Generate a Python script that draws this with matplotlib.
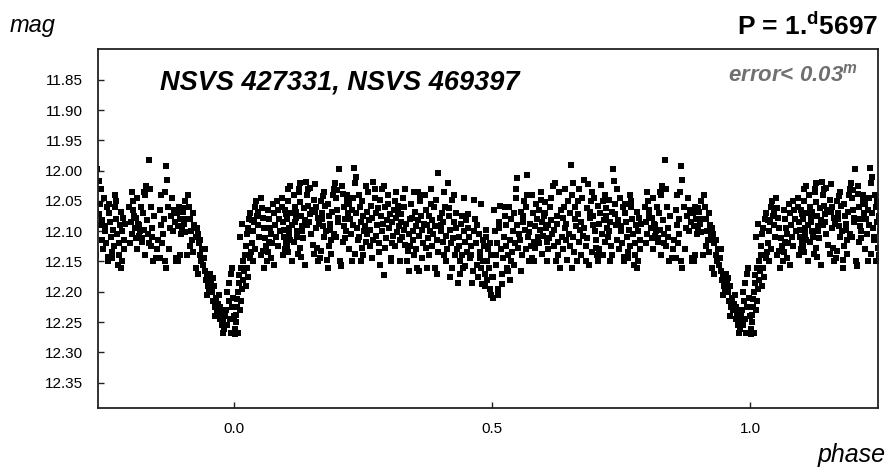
import numpy as np
import matplotlib
matplotlib.use("Agg")
import matplotlib.pyplot as plt

plt.rcParams['font.family'] = ['Liberation Sans', 'DejaVu Sans']

# light curve of one cycle (phase 0..1), magnitudes
phase_egress = [
    0.001, 0.002, 0.004, 0.003, 0.006, 0.005, 0.008, 0.009, 0.007, 0.010,
    0.012, 0.014, 0.016, 0.018, 0.013, 0.011, 0.015, 0.017, 0.019, 0.021,
    0.022, 0.024, 0.026, 0.028, 0.030, 0.023, 0.027, 0.025, 0.031, 0.033,
    0.035, 0.037, 0.039, 0.041, 0.043, 0.036, 0.045, 0.047, 0.040, 0.049,
    0.051, 0.053, 0.055, 0.057, 0.052, 0.059, 0.061, 0.063, 0.058, 0.065,
    0.067, 0.069, 0.071, 0.073, 0.066, 0.075, 0.077, 0.079, 0.072, 0.081,
    0.083, 0.085, 0.087, 0.089, 0.084, 0.078, 0.068, 0.056, 0.046, 0.034]
mag_egress = [
    12.270, 12.262, 12.250, 12.238, 12.225, 12.212, 12.200, 12.185, 12.268, 12.172,
    12.230, 12.215, 12.195, 12.180, 12.160, 12.110, 12.088, 12.150, 12.165, 12.140,
    12.125, 12.105, 12.095, 12.080, 12.070, 12.190, 12.175, 12.160, 12.145, 12.135,
    12.120, 12.100, 12.085, 12.060, 12.050, 12.150, 12.075, 12.090, 12.130, 12.110,
    12.045, 12.062, 12.078, 12.095, 12.140, 12.112, 12.125, 12.150, 12.160, 12.065,
    12.080, 12.095, 12.105, 12.120, 12.135, 12.055, 12.070, 12.090, 12.145, 12.110,
    12.050, 12.065, 12.080, 12.100, 12.125, 12.155, 12.118, 12.132, 12.068, 12.082]

phase_max1 = [
    0.092, 0.094, 0.096, 0.098, 0.100, 0.093, 0.097, 0.101, 0.095, 0.099,
    0.103, 0.105, 0.107, 0.109, 0.104, 0.111, 0.108, 0.113, 0.106, 0.102,
    0.115, 0.117, 0.119, 0.121, 0.116, 0.123, 0.118, 0.125, 0.120, 0.122,
    0.127, 0.129, 0.131, 0.133, 0.128, 0.135, 0.130, 0.137, 0.132, 0.126,
    0.140, 0.142, 0.144, 0.146, 0.141, 0.148, 0.143, 0.150, 0.145, 0.152,
    0.154, 0.156, 0.158, 0.160, 0.155, 0.162, 0.157, 0.164, 0.159, 0.166,
    0.168, 0.170, 0.172, 0.174, 0.169, 0.176, 0.171, 0.178, 0.173, 0.180,
    0.182, 0.184, 0.186, 0.188, 0.183, 0.190, 0.185, 0.192, 0.187, 0.194,
    0.196, 0.198, 0.200, 0.202, 0.197, 0.204, 0.199, 0.206, 0.201, 0.208,
    0.210, 0.212, 0.214, 0.216, 0.211, 0.218, 0.213, 0.220, 0.215, 0.209]
mag_max1 = [
    12.060, 12.085, 12.110, 12.130, 12.072, 12.045, 12.098, 12.120, 12.140, 12.065,
    12.080, 12.050, 12.095, 12.115, 12.135, 12.070, 12.025, 12.090, 12.105, 12.125,
    12.040, 12.060, 12.078, 12.100, 12.118, 12.138, 12.085, 12.030, 12.068, 12.110,
    12.052, 12.075, 12.092, 12.112, 12.128, 12.062, 12.143, 12.082, 12.100, 12.035,
    12.018, 12.040, 12.058, 12.072, 12.090, 12.105, 12.030, 12.065, 12.085, 12.122,
    12.048, 12.068, 12.095, 12.128, 12.138, 12.078, 12.022, 12.088, 12.060, 12.145,
    12.050, 12.070, 12.092, 12.110, 12.132, 12.058, 12.080, 12.100, 12.042, 12.148,
    12.055, 12.075, 12.098, 12.115, 12.125, 12.068, 12.088, 12.040, 12.138, 12.105,
    12.020, 12.045, 12.065, 12.085, 12.110, 11.998, 12.032, 12.150, 12.078, 12.158,
    12.038, 12.060, 12.080, 12.100, 12.118, 12.050, 12.092, 12.070, 12.112, 12.025]

phase_max1b = [
    0.222, 0.224, 0.226, 0.228, 0.223, 0.230, 0.232, 0.234, 0.231, 0.236,
    0.238, 0.240, 0.235, 0.242, 0.244, 0.246, 0.241, 0.248, 0.250, 0.252,
    0.247, 0.254, 0.256, 0.249, 0.258, 0.260, 0.262, 0.257, 0.264, 0.266,
    0.268, 0.263, 0.270, 0.272, 0.274, 0.269, 0.276, 0.278, 0.280, 0.275,
    0.282, 0.284, 0.286, 0.281, 0.288, 0.290, 0.292, 0.287, 0.294, 0.296,
    0.298, 0.293, 0.300, 0.302, 0.304, 0.299, 0.306, 0.308, 0.310, 0.305,
    0.312, 0.314, 0.316, 0.311, 0.318, 0.320, 0.322, 0.317, 0.324, 0.326,
    0.328, 0.323, 0.330, 0.332, 0.334, 0.329, 0.336, 0.338, 0.340, 0.335,
    0.342, 0.344, 0.346, 0.341, 0.348, 0.350, 0.352, 0.347, 0.354, 0.356,
    0.358, 0.353, 0.360, 0.362, 0.364, 0.359, 0.366, 0.368, 0.365, 0.357]
mag_max1b = [
    12.055, 12.080, 12.105, 12.065, 12.130, 12.090, 11.995, 12.020, 12.045, 12.070,
    12.095, 12.115, 12.138, 12.040, 12.060, 12.085, 12.110, 12.128, 12.075, 12.100,
    12.050, 12.092, 12.118, 12.140, 12.068, 12.035, 12.082, 12.105, 12.125, 12.058,
    12.078, 12.098, 12.018, 12.045, 12.070, 12.115, 12.090, 12.062, 12.135, 12.108,
    12.048, 12.075, 12.100, 12.120, 12.088, 12.172, 12.060, 12.030, 12.112, 12.082,
    12.055, 12.128, 12.095, 12.072, 12.145, 12.040, 12.085, 12.108, 12.065, 12.120,
    12.050, 12.078, 12.102, 12.125, 12.068, 12.092, 12.115, 12.058, 12.085, 12.110,
    12.045, 12.072, 12.098, 12.122, 12.088, 12.060, 12.132, 12.105, 12.080, 12.150,
    12.055, 12.078, 12.100, 12.125, 12.140, 12.068, 12.092, 12.115, 12.160, 12.082,
    12.108, 12.130, 12.050, 12.075, 12.098, 12.165, 12.120, 12.088, 12.145, 12.035]

phase_sec1 = [
    0.370, 0.372, 0.374, 0.376, 0.371, 0.378, 0.380, 0.382, 0.377, 0.384,
    0.386, 0.388, 0.383, 0.390, 0.392, 0.394, 0.389, 0.396, 0.398, 0.395,
    0.400, 0.402, 0.404, 0.401, 0.406, 0.408, 0.410, 0.405, 0.412, 0.414,
    0.416, 0.411, 0.418, 0.420, 0.422, 0.417, 0.424, 0.426, 0.428, 0.423,
    0.430, 0.432, 0.434, 0.429, 0.436, 0.438, 0.440, 0.435, 0.442, 0.444,
    0.446, 0.441, 0.448, 0.450, 0.452, 0.447, 0.454, 0.456, 0.458, 0.453,
    0.460, 0.462, 0.464, 0.459, 0.466, 0.468, 0.470, 0.465, 0.472, 0.474,
    0.476, 0.471, 0.478, 0.480, 0.482, 0.477, 0.484, 0.486, 0.488, 0.483,
    0.490, 0.492, 0.494, 0.489, 0.496, 0.498, 0.500, 0.495, 0.491, 0.497]
mag_sec1 = [
    12.040, 12.065, 12.090, 12.112, 12.128, 12.075, 12.100, 12.055, 12.140, 12.082,
    12.105, 12.060, 12.125, 12.092, 12.048, 12.115, 12.160, 12.003, 12.078, 12.135,
    12.100, 12.070, 12.118, 12.090, 12.140, 12.060, 12.108, 12.085, 12.130, 12.020,
    12.075, 12.150, 12.098, 12.120, 12.160, 12.062, 12.112, 12.085, 12.140, 12.048,
    12.095, 12.130, 12.185, 12.070, 12.110, 12.150, 12.088, 12.125, 12.075, 12.160,
    12.100, 12.140, 12.118, 12.082, 12.135, 12.158, 12.072, 12.110, 12.145, 12.095,
    12.125, 12.165, 12.100, 12.140, 12.080, 12.120, 12.155, 12.048, 12.175, 12.105,
    12.135, 12.090, 12.160, 12.188, 12.115, 12.145, 12.125, 12.170, 12.098, 12.150,
    12.180, 12.130, 12.160, 12.110, 12.195, 12.140, 12.175, 12.120, 12.150, 12.205]

phase_sec2 = [
    0.501, 0.503, 0.505, 0.507, 0.502, 0.509, 0.511, 0.513, 0.508, 0.515,
    0.517, 0.519, 0.514, 0.521, 0.523, 0.525, 0.520, 0.527, 0.529, 0.526,
    0.531, 0.533, 0.535, 0.530, 0.537, 0.539, 0.541, 0.536, 0.543, 0.545,
    0.547, 0.542, 0.549, 0.551, 0.553, 0.548, 0.555, 0.557, 0.559, 0.554,
    0.561, 0.563, 0.565, 0.560, 0.567, 0.569, 0.571, 0.566, 0.573, 0.575,
    0.577, 0.572, 0.579, 0.581, 0.583, 0.578, 0.585, 0.587, 0.589, 0.584,
    0.591, 0.593, 0.595, 0.590, 0.597, 0.599, 0.601, 0.596, 0.603, 0.605,
    0.607, 0.602, 0.609, 0.611, 0.613, 0.608, 0.615, 0.617, 0.619, 0.614,
    0.621, 0.623, 0.625, 0.620, 0.627, 0.629, 0.631, 0.626, 0.633, 0.635]
mag_sec2 = [
    12.210, 12.065, 12.100, 12.140, 12.175, 12.120, 12.205, 12.085, 12.155, 12.058,
    12.130, 12.170, 12.095, 12.145, 12.110, 12.075, 12.188, 12.125, 12.160, 12.090,
    12.140, 12.060, 12.115, 12.165, 12.080, 12.135, 12.100, 12.150, 12.070, 12.120,
    12.045, 12.155, 12.090, 12.128, 12.105, 12.012, 12.068, 12.140, 12.085, 12.115,
    12.050, 12.098, 12.130, 12.075, 12.007, 12.110, 12.150, 12.060, 12.088, 12.125,
    12.040, 12.102, 12.070, 12.118, 12.092, 12.145, 12.055, 12.080, 12.110, 12.128,
    12.065, 12.098, 12.048, 12.120, 12.085, 12.108, 12.075, 12.138, 12.052, 12.095,
    12.118, 12.070, 12.090, 12.112, 12.060, 12.130, 12.082, 12.105, 12.125, 12.045,
    12.020, 12.150, 12.075, 12.098, 12.118, 12.035, 12.160, 12.088, 12.065, 12.110]

phase_max2 = [
    0.637, 0.639, 0.641, 0.643, 0.638, 0.645, 0.647, 0.649, 0.644, 0.651,
    0.653, 0.655, 0.650, 0.657, 0.659, 0.661, 0.656, 0.663, 0.665, 0.660,
    0.667, 0.669, 0.671, 0.666, 0.673, 0.675, 0.677, 0.672, 0.679, 0.681,
    0.683, 0.678, 0.685, 0.687, 0.689, 0.684, 0.691, 0.693, 0.695, 0.690,
    0.697, 0.699, 0.701, 0.696, 0.703, 0.705, 0.707, 0.702, 0.709, 0.711,
    0.713, 0.708, 0.715, 0.717, 0.719, 0.714, 0.721, 0.723, 0.725, 0.720,
    0.727, 0.729, 0.731, 0.726, 0.733, 0.735, 0.737, 0.732, 0.739, 0.741,
    0.743, 0.738, 0.745, 0.747, 0.749, 0.744, 0.751, 0.753, 0.755, 0.750]
mag_max2 = [
    12.130, 12.060, 12.095, 12.115, 12.078, 12.148, 12.050, 12.105, 12.088, 12.125,
    11.990, 12.040, 12.070, 12.110, 12.135, 12.060, 12.020, 12.092, 12.150, 12.080,
    12.050, 12.118, 12.098, 12.072, 12.140, 12.045, 12.108, 12.085, 12.015, 12.125,
    12.062, 12.095, 12.022, 12.155, 12.078, 12.112, 12.050, 12.135, 12.090, 12.068,
    12.045, 12.100, 12.128, 12.075, 12.140, 12.058, 12.088, 12.115, 12.070, 12.023,
    12.105, 12.130, 12.050, 12.082, 12.118, 12.140, 12.062, 12.095, 12.110, 12.075,
    12.048, 12.085, 12.125, 12.100, 12.068, 11.998, 12.017, 12.140, 12.055, 12.090,
    12.115, 12.072, 12.130, 12.045, 12.100, 12.082, 12.120, 12.060, 12.142, 12.092]

phase_max2b = [
    0.757, 0.759, 0.761, 0.763, 0.758, 0.765, 0.767, 0.769, 0.764, 0.771,
    0.773, 0.775, 0.770, 0.777, 0.779, 0.781, 0.776, 0.783, 0.785, 0.780,
    0.787, 0.789, 0.786, 0.797, 0.799, 0.801, 0.803, 0.798, 0.805, 0.807,
    0.809, 0.804, 0.811, 0.813, 0.815, 0.810, 0.817, 0.819, 0.821, 0.816,
    0.823, 0.825, 0.827, 0.822, 0.829, 0.831, 0.833, 0.828, 0.835, 0.837,
    0.839, 0.834, 0.841, 0.843, 0.845, 0.840, 0.857, 0.859, 0.861, 0.856,
    0.863, 0.865, 0.867, 0.862, 0.869, 0.871, 0.873, 0.868, 0.875, 0.877,
    0.883, 0.885, 0.887, 0.882, 0.889, 0.891, 0.893, 0.888, 0.895, 0.897,
    0.899, 0.894, 0.901, 0.903, 0.905, 0.900, 0.907, 0.850, 0.852, 0.848]
mag_max2b = [
    12.055, 12.085, 12.110, 12.135, 12.070, 12.098, 12.125, 12.060, 12.145, 12.080,
    12.105, 12.155, 12.050, 12.120, 12.090, 12.068, 12.140, 12.100, 12.078, 12.160,
    12.115, 12.088, 12.130, 12.060, 12.085, 12.105, 12.050, 12.120, 12.075, 12.095,
    12.112, 12.065, 12.045, 12.088, 12.108, 12.078, 12.100, 12.060, 12.118, 12.090,
    12.070, 12.098, 12.040, 12.112, 12.025, 12.082, 12.105, 12.140, 11.982, 12.030,
    12.060, 12.120, 12.095, 12.150, 12.075, 12.110, 12.065, 12.090, 12.120, 12.145,
    12.080, 12.035, 11.993, 12.105, 12.015, 12.060, 12.130, 12.160, 12.095, 12.075,
    12.065, 12.085, 12.145, 12.100, 12.070, 12.092, 12.060, 12.150, 12.080, 12.105,
    12.098, 12.140, 12.068, 12.088, 12.102, 12.062, 12.080, 12.130, 12.115, 12.145]

phase_ingress = [
    0.910, 0.912, 0.915, 0.917, 0.919, 0.921, 0.923, 0.925, 0.914, 0.920,
    0.927, 0.929, 0.931, 0.933, 0.935, 0.937, 0.926, 0.930, 0.934, 0.939,
    0.941, 0.943, 0.945, 0.947, 0.949, 0.944, 0.951, 0.953, 0.955, 0.948,
    0.957, 0.959, 0.961, 0.963, 0.965, 0.958, 0.967, 0.969, 0.962, 0.971,
    0.973, 0.975, 0.977, 0.972, 0.979, 0.981, 0.983, 0.978, 0.985, 0.987,
    0.989, 0.986, 0.991, 0.993, 0.995, 0.990, 0.997, 0.999, 0.994, 0.996]
mag_ingress = [
    12.040, 12.060, 12.080, 12.100, 12.115, 12.070, 12.090, 12.110, 12.125, 12.135,
    12.095, 12.105, 12.120, 12.140, 12.150, 12.130, 12.160, 12.170, 12.115, 12.155,
    12.145, 12.165, 12.180, 12.175, 12.190, 12.130, 12.195, 12.170, 12.185, 12.205,
    12.200, 12.215, 12.190, 12.225, 12.210, 12.178, 12.230, 12.220, 12.240, 12.205,
    12.245, 12.235, 12.255, 12.225, 12.250, 12.262, 12.240, 12.268, 12.230, 12.255,
    12.215, 12.200, 12.245, 12.268, 12.225, 12.185, 12.210, 12.240, 12.170, 12.160]

# points along the upper and lower edges of the scatter band
phase_edge = [
    0.105, 0.112, 0.128, 0.138, 0.147, 0.163, 0.175, 0.181, 0.193, 0.207,
    0.219, 0.229, 0.237, 0.245, 0.255, 0.267, 0.273, 0.283, 0.291, 0.303,
    0.313, 0.321, 0.331, 0.339, 0.349, 0.361, 0.373, 0.381, 0.393, 0.407,
    0.419, 0.427, 0.437, 0.445, 0.461, 0.479, 0.487, 0.512, 0.524, 0.534,
    0.546, 0.556, 0.568, 0.582, 0.594, 0.606, 0.618, 0.628, 0.642, 0.654,
    0.668, 0.682, 0.694, 0.706, 0.718, 0.728, 0.742, 0.756, 0.768, 0.782,
    0.801, 0.812, 0.826, 0.838, 0.858, 0.866, 0.879, 0.892, 0.904, 0.908]
mag_edge = [
    12.030, 12.150, 12.020, 12.155, 12.028, 12.150, 12.035, 12.160, 12.030, 12.155,
    12.040, 12.150, 12.010, 12.150, 12.025, 12.145, 12.030, 12.155, 12.025, 12.150,
    12.035, 12.150, 12.030, 12.165, 12.035, 12.040, 12.160, 12.030, 12.170, 12.035,
    12.175, 12.040, 12.170, 12.045, 12.185, 12.055, 12.190, 12.195, 12.060, 12.180,
    12.030, 12.165, 12.040, 12.150, 12.035, 12.150, 12.025, 12.140, 12.030, 12.160,
    12.030, 12.150, 12.035, 12.150, 12.040, 12.150, 12.030, 12.150, 12.040, 12.150,
    12.035, 12.130, 12.035, 12.125, 12.040, 12.150, 12.045, 12.150, 12.050, 12.140]

y_ticks = [11.85, 11.90, 11.95, 12.00, 12.05, 12.10, 12.15, 12.20, 12.25, 12.30, 12.35]
x_ticks = [0.0, 0.5, 1.0]

phase = np.concatenate([phase_egress, phase_max1, phase_max1b, phase_sec1,
                        phase_sec2, phase_max2, phase_max2b, phase_ingress, phase_edge])
mag = np.concatenate([mag_egress, mag_max1, mag_max1b, mag_sec1,
                      mag_sec2, mag_max2, mag_max2b, mag_ingress, mag_edge])

# show 1.5 cycles: repeat the cycle on both sides
ph_all = np.concatenate([phase - 1, phase, phase + 1])
mag_all = np.concatenate([mag, mag, mag])

W, H = 891, 472
fig = plt.figure(figsize=(W / 100, H / 100), dpi=100)
ax = fig.add_axes([98 / W, 1 - 408 / H, (878 - 98) / W, (408 - 49) / H])

ax.plot(ph_all, mag_all, ls='none', marker='s', ms=4.9, mew=0, color='black')

ax.set_xlim(-0.264, 1.248)
ax.set_ylim(12.392, 11.799)
ax.set_xticks(x_ticks)
ax.set_xticklabels([f"{t:.1f}" for t in x_ticks])
ax.set_yticks(y_ticks)
ax.set_yticklabels([f"{t:.2f}" for t in y_ticks])
ax.tick_params(direction='in', length=4, width=1, color='#222222', labelsize=11)
ax.tick_params(axis='x', pad=10)
ax.tick_params(axis='y', pad=11)
for sp in ax.spines.values():
    sp.set_linewidth(1.3)
    sp.set_color('#222222')

fig.text(10 / W, 1 - 32 / H, 'mag', fontsize=17, style='italic', ha='left', va='baseline')
fig.text(878 / W, 1 - 35 / H, r'P = 1.$^\mathregular{d}$5697', fontsize=19,
         weight='bold', ha='right', va='baseline')
ax.text(160 / W, 1 - 89 / H, 'NSVS 427331, NSVS 469397', transform=fig.transFigure,
        fontsize=19.5, weight='bold', style='italic', ha='left', va='baseline')
ax.text(858 / W, 1 - 81 / H, r'error< 0.03$^\mathregular{m}$', transform=fig.transFigure,
        fontsize=16, weight='bold', style='italic', color='#707070',
        ha='right', va='baseline')
fig.text(886 / W, 1 - 462 / H, 'phase', fontsize=18, style='italic', ha='right', va='baseline')

fig.savefig('out.png', dpi=100)
